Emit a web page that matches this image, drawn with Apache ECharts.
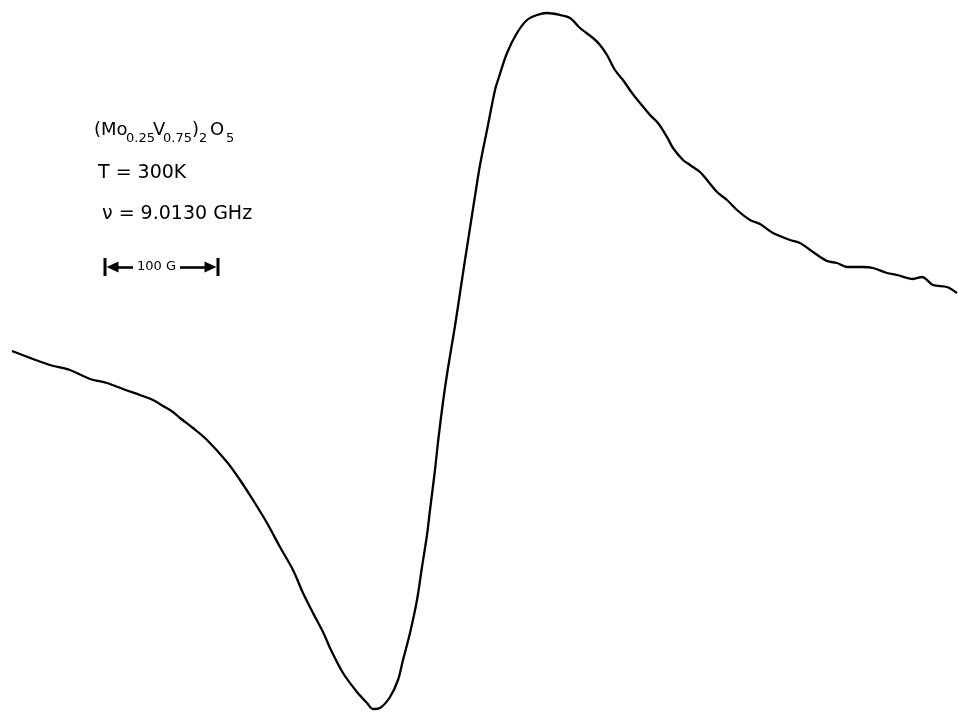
<!DOCTYPE html>
<html>
<head>
<meta charset="utf-8">
<script src="https://cdn.jsdelivr.net/npm/echarts@6/dist/echarts.min.js"></script>
<style>
html,body{margin:0;padding:0;background:#fff;}
#chart{width:958px;height:712px;}
</style>
</head>
<body>
<div id="chart"></div>
<script>
// Magnetic field (arbitrary units, 113 units = 100 G)
const field = [12,33,50,70,90,107,123,140,153,163,173,180,193,207,227,240,253,267,280,293,
  303,313,323,331,343,357,367,373,380,390,398,403,410,417,422,427,430,435,438,443,
  448,455,460,465,470,475,480,487,495,498,507,517,527,537,547,560,570,580,593,600,607,
  615,623,632,640,650,658,667,673,683,690,700,707,717,727,737,750,760,773,790,800,
  813,827,837,847,863,873,887,897,913,922,933,947,957];
// EPR derivative signal (arbitrary units)
const signal = [9,1,-5,-10,-19,-23,-29,-35,-40,-46,-52,-58,-68,-80,-102,-120,-140,-163,-187,-210,
  -233,-253,-272,-290,-313,-332,-343,-349,-348,-337,-320,-300,-273,-240,-207,-175,-150,-110,-82,-42,
  -8,34,67,100,132,164,195,230,270,280,307,327,340,345,347,345,342,332,322,315,305,
  290,280,267,257,245,237,223,212,200,195,188,180,168,160,150,140,136,127,120,117,
  108,99,97,93,93,92,87,85,81,83,75,73,67];
// Scale bar: 100 G
const scaleBarStart = 105;
const scaleBarEnd = 218;
const scaleBarLevel = 93;
const scaleBarLabel = '100 G';

const points = field.map((f, i) => [f, signal[i]]);
const barArrow = 'path://M0,0 L18,0 L18,3 L0,3 Z M9,3 L14.5,15 L3.5,15 Z';
const inset = 6;
const mid = (scaleBarStart + scaleBarEnd) / 2;
const FONT = 'DejaVu Sans';

function txt(left, top, text, size) {
  return {type: 'text', left: left, top: top,
    style: {text: text, fontFamily: FONT, fontSize: size, fill: '#000'}};
}

const chart = echarts.init(document.getElementById('chart'), null, {renderer: 'canvas'});
chart.setOption({
  backgroundColor: '#fff',
  animation: false,
  grid: {left: 0, right: 0, top: 0, bottom: 0},
  xAxis: {type: 'value', min: 0, max: 958, show: false},
  yAxis: {type: 'value', min: -352, max: 360, show: false},
  series: [{
    type: 'line',
    data: points,
    smooth: 0.3,
    showSymbol: false,
    lineStyle: {color: '#000', width: 2.3},
    markLine: {
      silent: true,
      animation: false,
      symbolSize: [18, 15],
      lineStyle: {color: '#000', width: 2.6, type: 'solid'},
      label: {show: false},
      data: [
        [{coord: [scaleBarStart + inset, scaleBarLevel], symbol: barArrow},
         {coord: [mid - 28.5, scaleBarLevel], symbol: 'none'}],
        [{coord: [mid + 18.5, scaleBarLevel], symbol: 'none'},
         {coord: [scaleBarEnd - inset, scaleBarLevel], symbol: barArrow}]
      ]
    },
    markPoint: {
      silent: true,
      symbol: 'circle',
      symbolSize: 0,
      data: [{coord: [mid - 5, scaleBarLevel]}],
      label: {show: true, position: 'inside', formatter: scaleBarLabel, color: '#000',
        fontFamily: FONT, fontSize: 13}
    }
  }],
  graphic: [
    txt(94, 121, '(Mo', 18),
    txt(126, 132, '0.25', 13),
    txt(153, 121, 'V', 18),
    txt(163, 132, '0.75', 13),
    txt(192, 121, ')', 18),
    txt(199, 132, '2', 13),
    txt(210, 121, 'O', 18),
    txt(226, 132, '5', 13),
    txt(98, 164, 'T = 300K', 19),
    txt(102, 205, 'ν = 9.0130 GHz', 19)
  ]
});
</script>
</body>
</html>
